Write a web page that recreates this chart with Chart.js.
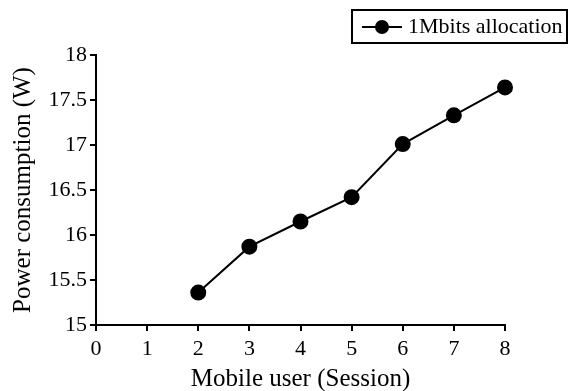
<!DOCTYPE html>
<html lang="en">
<head>
    <meta charset="UTF-8">
    <title>Power consumption</title>
    <script src="https://cdn.jsdelivr.net/npm/chart.js"></script>
    <style>
        body { margin: 0; padding: 0; background: #fff; }
        .wrap { width: 571px; height: 391px; }
    </style>
</head>
<body>
    <div class="wrap"><canvas id="powerChart" width="571" height="391"></canvas></div>

    <script>
        const sessions = [2, 3, 4, 5, 6, 7, 8];
        const powerWatts = [15.36, 15.87, 16.15, 16.42, 17.01, 17.33, 17.64];
        const seriesLabel = '1Mbits allocation';

        const serif = "'Liberation Serif', 'Times New Roman', serif";

        // boxed legend in the top-right corner, line + dot marker
        const boxedLegend = {
            id: 'boxedLegend',
            afterDraw(chart) {
                const ctx = chart.ctx;
                const ds = chart.data.datasets[0];
                ctx.save();
                ctx.strokeStyle = '#000';
                ctx.lineWidth = 2;
                ctx.strokeRect(352, 10, 215, 33);
                ctx.beginPath();
                ctx.moveTo(362, 27);
                ctx.lineTo(402, 27);
                ctx.stroke();
                ctx.beginPath();
                ctx.arc(382, 27, 7, 0, Math.PI * 2);
                ctx.fillStyle = '#000';
                ctx.fill();
                ctx.font = "22px " + serif;
                ctx.textBaseline = 'middle';
                ctx.fillText(ds.label, 408, 27);
                ctx.restore();
            }
        };

        new Chart(document.getElementById('powerChart').getContext('2d'), {
            type: 'line',
            data: {
                datasets: [{
                    label: seriesLabel,
                    data: sessions.map((s, i) => ({ x: s, y: powerWatts[i] })),
                    borderColor: '#000',
                    backgroundColor: '#000',
                    borderWidth: 2,
                    pointRadius: 7,
                    pointHoverRadius: 7,
                    fill: false,
                    tension: 0,
                    clip: false
                }]
            },
            options: {
                responsive: false,
                animation: false,
                layout: { padding: { top: 55, right: 66, left: 8, bottom: 0 } },
                plugins: {
                    legend: { display: false },
                    tooltip: { enabled: false }
                },
                scales: {
                    x: {
                        type: 'linear',
                        min: 0,
                        max: 8,
                        ticks: {
                            stepSize: 1,
                            color: '#000',
                            font: { family: serif, size: 22 },
                            padding: 5
                        },
                        grid: { drawOnChartArea: false, tickLength: 6, color: '#000', lineWidth: 2 },
                        border: { color: '#000', width: 2 },
                        title: {
                            display: true,
                            text: 'Mobile user (Session)',
                            color: '#000',
                            font: { family: serif, size: 25, lineHeight: 0.9 },
                            padding: { top: 0, bottom: 0 }
                        },
                        afterFit(scale) { scale.height = 66; }
                    },
                    y: {
                        min: 15,
                        max: 18,
                        ticks: {
                            stepSize: 0.5,
                            color: '#000',
                            font: { family: serif, size: 22 },
                            padding: 3,
                            callback: v => String(v)
                        },
                        grid: { drawOnChartArea: false, tickLength: 6, color: '#000', lineWidth: 2 },
                        border: { color: '#000', width: 2 },
                        title: {
                            display: true,
                            text: 'Power consumption (W)',
                            color: '#000',
                            font: { family: serif, size: 25 },
                            padding: { top: 0, bottom: 4 }
                        },
                        afterFit(scale) { scale.width = 88; }
                    }
                }
            },
            plugins: [boxedLegend]
        });
    </script>
</body>
</html>
